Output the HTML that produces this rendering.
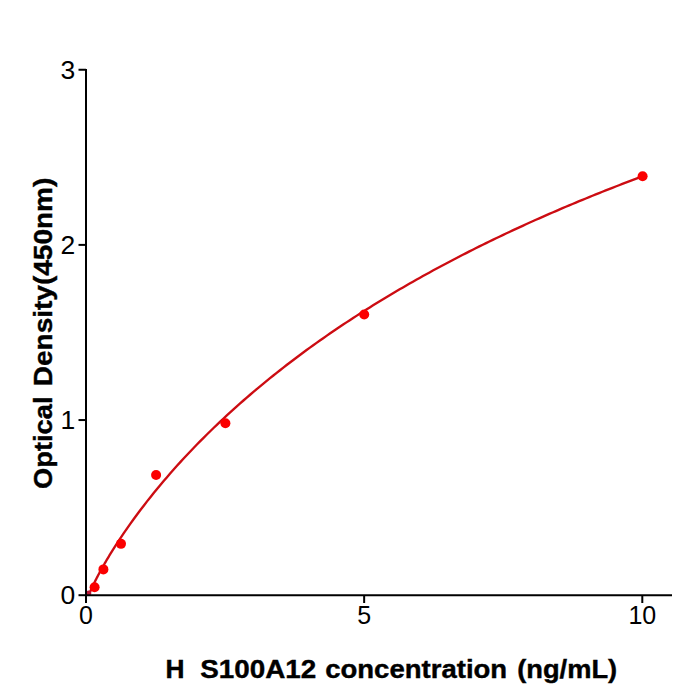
<!DOCTYPE html>
<html><head><meta charset="utf-8"><style>
html,body{margin:0;padding:0;background:#fff;width:700px;height:700px;overflow:hidden}
svg{display:block}
text{font-family:"Liberation Sans",sans-serif}
</style></head><body>
<svg width="700" height="700" viewBox="0 0 700 700">
<rect width="700" height="700" fill="#fff"/>
<defs><clipPath id="ax"><rect x="86" y="0" width="614" height="595.2"/></clipPath></defs>
<polyline clip-path="url(#ax)" points="86.00,602.91 86.47,601.16 86.94,599.74 87.41,598.42 87.89,597.18 88.36,595.98 88.83,594.82 89.30,593.68 89.77,592.58 90.24,591.50 90.71,590.43 91.19,589.39 91.66,588.36 92.13,587.34 92.60,586.34 93.07,585.35 93.54,584.37 94.01,583.40 94.49,582.44 94.96,581.49 95.43,580.55 95.90,579.62 96.37,578.70 96.84,577.79 97.31,576.88 97.79,575.98 98.26,575.08 98.73,574.20 99.20,573.32 99.67,572.44 100.14,571.57 100.61,570.71 101.09,569.85 101.56,569.00 102.03,568.16 102.50,567.32 102.97,566.48 103.44,565.65 103.91,564.82 104.39,564.00 104.86,563.18 105.33,562.37 105.80,561.56 106.27,560.75 106.74,559.95 107.21,559.15 107.69,558.36 108.16,557.57 108.63,556.78 109.10,556.00 109.57,555.22 110.04,554.45 110.51,553.68 110.99,552.91 111.46,552.14 111.93,551.38 112.40,550.62 112.87,549.87 113.34,549.12 113.81,548.37 117.14,543.17 120.46,538.11 123.79,533.17 127.11,528.35 130.43,523.63 133.76,519.01 137.08,514.48 140.41,510.04 143.73,505.68 147.05,501.40 150.38,497.19 153.70,493.05 157.02,488.98 160.35,484.98 163.67,481.03 167.00,477.15 170.32,473.32 173.64,469.55 176.97,465.83 180.29,462.16 183.61,458.55 186.94,454.98 190.26,451.46 193.59,447.98 196.91,444.55 200.23,441.15 203.56,437.81 206.88,434.50 210.21,431.23 213.53,428.00 216.85,424.80 220.18,421.65 223.50,418.53 226.82,415.44 230.15,412.39 233.47,409.37 236.80,406.38 240.12,403.43 243.44,400.50 246.77,397.61 250.09,394.74 253.41,391.91 256.74,389.10 260.06,386.32 263.39,383.57 266.71,380.85 270.03,378.15 273.36,375.48 276.68,372.83 280.01,370.21 283.33,367.61 286.65,365.04 289.98,362.49 293.30,359.96 296.62,357.45 299.95,354.97 303.27,352.51 306.60,350.07 309.92,347.66 313.24,345.26 316.57,342.89 319.89,340.53 323.21,338.19 326.54,335.88 329.86,333.58 333.19,331.30 336.51,329.05 339.83,326.81 343.16,324.58 346.48,322.38 349.81,320.19 353.13,318.02 356.45,315.87 359.78,313.74 363.10,311.62 366.42,309.52 369.75,307.43 373.07,305.36 376.40,303.30 379.72,301.27 383.04,299.24 386.37,297.23 389.69,295.24 393.01,293.26 396.34,291.30 399.66,289.35 402.99,287.41 406.31,285.49 409.63,283.58 412.96,281.68 416.28,279.80 419.61,277.94 422.93,276.08 426.25,274.24 429.58,272.41 432.90,270.59 436.22,268.79 439.55,267.00 442.87,265.22 446.20,263.45 449.52,261.69 452.84,259.95 456.17,258.22 459.49,256.50 462.81,254.79 466.14,253.09 469.46,251.40 472.79,249.72 476.11,248.06 479.43,246.40 482.76,244.76 486.08,243.13 489.40,241.50 492.73,239.89 496.05,238.29 499.38,236.69 502.70,235.11 506.02,233.54 509.35,231.97 512.67,230.42 516.00,228.87 519.32,227.34 522.64,225.81 525.97,224.30 529.29,222.79 532.61,221.29 535.94,219.80 539.26,218.32 542.59,216.85 545.91,215.39 549.23,213.93 552.56,212.49 555.88,211.05 559.20,209.62 562.53,208.20 565.85,206.78 569.18,205.38 572.50,203.98 575.82,202.59 579.15,201.21 582.47,199.84 585.80,198.47 589.12,197.12 592.44,195.77 595.77,194.42 599.09,193.09 602.41,191.76 605.74,190.44 609.06,189.13 612.39,187.82 615.71,186.52 619.03,185.23 622.36,183.94 625.68,182.66 629.00,181.39 632.33,180.13 635.65,178.87 638.98,177.62 642.30,176.37" fill="none" stroke="#cc0c12" stroke-width="2.35" stroke-linejoin="round"/>
<circle cx="94.60" cy="587.20" r="5.00" fill="#fb0000"/><circle cx="103.40" cy="569.40" r="5.00" fill="#fb0000"/><circle cx="121.00" cy="543.85" r="5.00" fill="#fb0000"/><circle cx="156.10" cy="475.00" r="5.00" fill="#fb0000"/><circle cx="225.40" cy="423.20" r="5.00" fill="#fb0000"/><circle cx="364.20" cy="314.55" r="5.00" fill="#fb0000"/><circle cx="642.60" cy="176.20" r="5.00" fill="#fb0000"/>
<circle clip-path="url(#ax)" cx="88.6" cy="593.2" r="2.6" fill="#b81838"/>
<g stroke="#000" stroke-width="2" fill="none">
<line x1="86" y1="69" x2="86" y2="596.2"/>
<line x1="85" y1="595.2" x2="672" y2="595.2"/>
<line x1="78.5" y1="595.20" x2="86" y2="595.20"/><line x1="78.5" y1="420.05" x2="86" y2="420.05"/><line x1="78.5" y1="244.90" x2="86" y2="244.90"/><line x1="78.5" y1="69.75" x2="86" y2="69.75"/><line x1="86.00" y1="595" x2="86.00" y2="603"/><line x1="364.15" y1="595" x2="364.15" y2="603"/><line x1="642.30" y1="595" x2="642.30" y2="603"/>
</g>
<g font-size="25" fill="#000"><text transform="translate(75.3,604.00) scale(1.06,1)" text-anchor="end">0</text><text transform="translate(75.3,428.85) scale(1.06,1)" text-anchor="end">1</text><text transform="translate(75.3,253.70) scale(1.06,1)" text-anchor="end">2</text><text transform="translate(75.3,78.55) scale(1.06,1)" text-anchor="end">3</text><text x="86.00" y="623.7" text-anchor="middle">0</text><text x="364.15" y="623.7" text-anchor="middle">5</text><text x="642.30" y="623.7" text-anchor="middle">10</text></g>
<g font-size="25.5" font-weight="bold" fill="#000" stroke="#000" stroke-width="0.4"><text transform="translate(52.00,489.00) rotate(-90)" textLength="92.50" lengthAdjust="spacingAndGlyphs">Optical</text><text transform="translate(52.00,386.20) rotate(-90)" textLength="208.50" lengthAdjust="spacingAndGlyphs">Density(450nm)</text><text x="165.60" y="677.80" textLength="19.00" lengthAdjust="spacingAndGlyphs">H</text><text x="200.20" y="677.80" textLength="116.00" lengthAdjust="spacingAndGlyphs">S100A12</text><text x="325.20" y="677.80" textLength="182.00" lengthAdjust="spacingAndGlyphs">concentration</text><text x="517.20" y="677.80" textLength="100.00" lengthAdjust="spacingAndGlyphs">(ng/mL)</text></g>
</svg>
</body></html>
